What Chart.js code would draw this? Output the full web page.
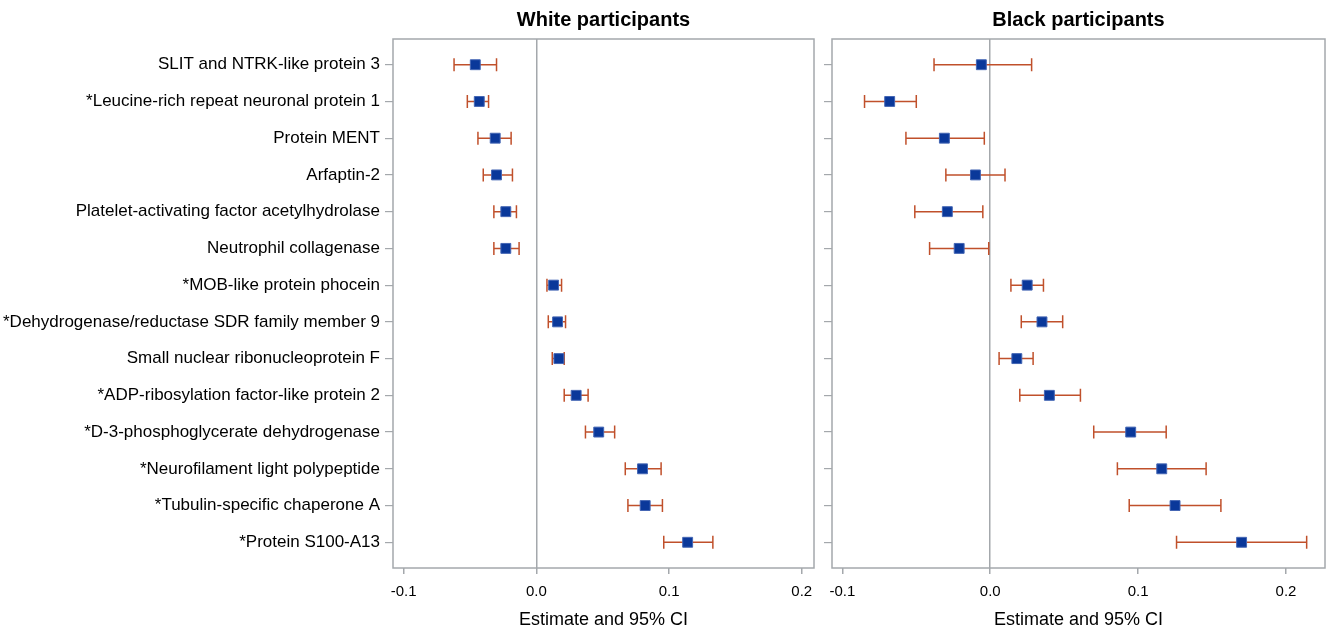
<!DOCTYPE html>
<html>
<head>
<meta charset="utf-8">
<script src="https://cdn.jsdelivr.net/npm/chart.js@4/dist/chart.umd.min.js"></script>
<style>
  html, body { margin: 0; padding: 0; background: #fff; }
  #wrap { position: relative; width: 1326px; height: 632px; }
  #leftBox { position: absolute; left: 0; top: 0; }
  #rightBox { position: absolute; left: 816px; top: 0; }
</style>
</head>
<body>
<div id="wrap">
  <div id="leftBox"><canvas id="whiteChart" width="816" height="632"></canvas></div>
  <div id="rightBox"><canvas id="blackChart" width="510" height="632"></canvas></div>
</div>
<script>
// Proteins (top to bottom)
const proteins = [
  "SLIT and NTRK-like protein 3",
  "*Leucine-rich repeat neuronal protein 1",
  "Protein MENT",
  "Arfaptin-2",
  "Platelet-activating factor acetylhydrolase",
  "Neutrophil collagenase",
  "*MOB-like protein phocein",
  "*Dehydrogenase/reductase SDR family member 9",
  "Small nuclear ribonucleoprotein F",
  "*ADP-ribosylation factor-like protein 2",
  "*D-3-phosphoglycerate dehydrogenase",
  "*Neurofilament light polypeptide",
  "*Tubulin-specific chaperone A",
  "*Protein S100-A13"
];

// White participants
const whiteEst  = [-0.046, -0.043, -0.031, -0.030, -0.023, -0.023, 0.013, 0.016, 0.017, 0.030, 0.047, 0.080, 0.082, 0.114];
const whiteLow  = [-0.062, -0.052, -0.044, -0.040, -0.032, -0.032, 0.008, 0.009, 0.012, 0.021, 0.037, 0.067, 0.069, 0.096];
const whiteHigh = [-0.030, -0.036, -0.019, -0.018, -0.015, -0.013, 0.019, 0.022, 0.021, 0.039, 0.059, 0.094, 0.095, 0.133];

// Black participants
const blackEst  = [-0.006, -0.068, -0.031, -0.010, -0.029, -0.021, 0.025, 0.035, 0.018, 0.040, 0.095, 0.116, 0.125, 0.170];
const blackLow  = [-0.038, -0.085, -0.057, -0.030, -0.051, -0.041, 0.014, 0.021, 0.006, 0.020, 0.070, 0.086, 0.094, 0.126];
const blackHigh = [0.028, -0.050, -0.004, 0.010, -0.005, -0.001, 0.036, 0.049, 0.029, 0.061, 0.119, 0.146, 0.156, 0.214];

const xTicks = [-0.1, 0, 0.1, 0.2];

const fontFamily = '"Liberation Sans", Arial, sans-serif';
const axisGray = '#a4a8ac';
const barColor = '#c0502b';
const markerColor = '#0a389a';

// CI whiskers with caps, drawn under the markers
const errorBarPlugin = {
  id: 'errorBars',
  beforeDatasetsDraw(chart, args, opts) {
    const ctx = chart.ctx;
    const x = chart.scales.x, y = chart.scales.y;
    ctx.save();
    ctx.strokeStyle = opts.color;
    ctx.lineWidth = 1.5;
    opts.low.forEach(function (lo, i) {
      const yy = y.getPixelForValue(i);
      const x1 = x.getPixelForValue(lo);
      const x2 = x.getPixelForValue(opts.high[i]);
      ctx.beginPath();
      ctx.moveTo(x1, yy); ctx.lineTo(x2, yy);
      ctx.moveTo(x1, yy - 6.5); ctx.lineTo(x1, yy + 6.5);
      ctx.moveTo(x2, yy - 6.5); ctx.lineTo(x2, yy + 6.5);
      ctx.stroke();
    });
    ctx.restore();
  }
};

// Frame around the plot area + panel heading
const framePlugin = {
  id: 'frame',
  beforeDatasetsDraw(chart, args, opts) {
    const ctx = chart.ctx;
    const a = chart.chartArea;
    ctx.save();
    ctx.strokeStyle = axisGray;
    ctx.lineWidth = 1.5;
    ctx.strokeRect(a.left, a.top, a.right - a.left, a.bottom - a.top);
    ctx.fillStyle = '#000';
    ctx.font = 'bold 20px ' + fontFamily;
    ctx.textAlign = 'center';
    ctx.textBaseline = 'middle';
    ctx.fillText(opts.title, (a.left + a.right) / 2, 20);
    ctx.restore();
  }
};

function makeChart(canvasId, est, low, high, title, xMin, xMax, showLabels, yWidth, padRight) {
  return new Chart(document.getElementById(canvasId), {
    type: 'scatter',
    data: {
      datasets: [{
        data: est.map(function (v, i) { return {x: v, y: i}; }),
        pointStyle: 'rect',
        pointRadius: 7,
        backgroundColor: markerColor,
        borderColor: '#4466b4',
        borderWidth: 1
      }]
    },
    options: {
      responsive: false,
      animation: false,
      layout: { autoPadding: false, padding: {top: 39, right: padRight, left: 0, bottom: 0} },
      plugins: {
        legend: {display: false},
        tooltip: {enabled: false},
        errorBars: {low: low, high: high, color: barColor},
        frame: {title: title}
      },
      scales: {
        x: {
          type: 'linear',
          min: xMin,
          max: xMax,
          afterBuildTicks: function (s) { s.ticks = xTicks.map(function (v) { return {value: v}; }); },
          afterFit: function (s) { s.height = 64; s.paddingLeft = 0; s.paddingRight = 0; },
          border: {display: false},
          grid: {
            color: function (c) { return c.tick && c.tick.value === 0 ? axisGray : 'rgba(0,0,0,0)'; },
            tickColor: axisGray,
            tickLength: 6,
            lineWidth: 1.5
          },
          ticks: {
            color: '#000',
            padding: 9,
            font: {family: fontFamily, size: 15},
            callback: function (v) { return v.toFixed(1); }
          },
          title: {
            display: true,
            text: 'Estimate and 95% CI',
            color: '#000',
            font: {family: fontFamily, size: 18},
            padding: {top: 4, bottom: 1}
          }
        },
        y: {
          type: 'linear',
          reverse: true,
          min: -0.7,
          max: 13.7,
          afterBuildTicks: function (s) { s.ticks = proteins.map(function (p, i) { return {value: i}; }); },
          afterFit: function (s) { s.width = yWidth; s.paddingTop = 0; s.paddingBottom = 0; },
          border: {display: false},
          grid: {drawOnChartArea: false, tickLength: 8, color: axisGray, lineWidth: 1.2},
          ticks: {
            autoSkip: false,
            color: '#000',
            padding: 5,
            font: {family: fontFamily, size: 17},
            callback: function (v) { return showLabels ? proteins[v] : ''; }
          }
        }
      }
    },
    plugins: [errorBarPlugin, framePlugin]
  });
}

makeChart('whiteChart', whiteEst, whiteLow, whiteHigh, 'White participants', -0.108, 0.2092, true, 393, 2);
makeChart('blackChart', blackEst, blackLow, blackHigh, 'Black participants', -0.107, 0.2264, false, 16, 1);
</script>
</body>
</html>
